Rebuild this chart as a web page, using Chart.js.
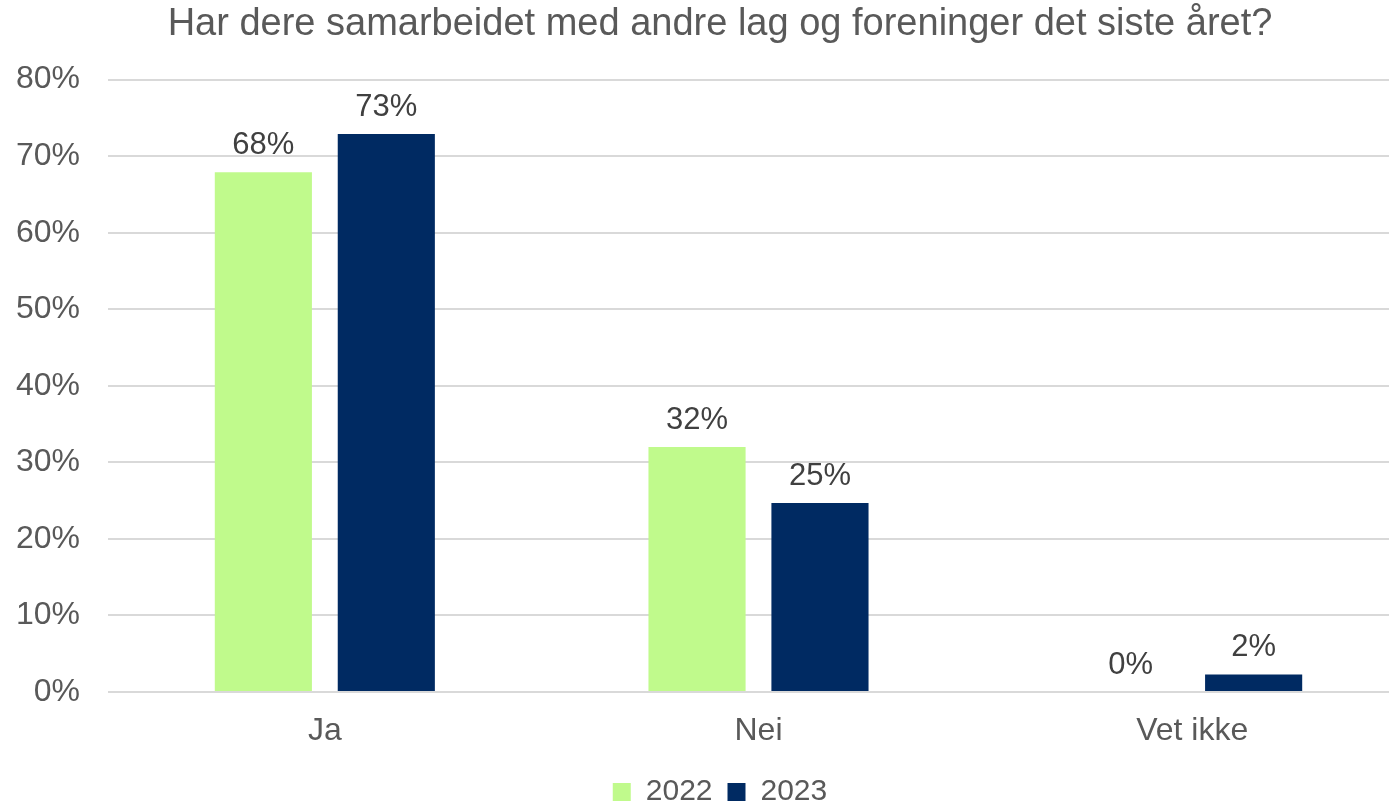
<!DOCTYPE html>
<html>
<head>
<meta charset="utf-8">
<script src="https://cdn.jsdelivr.net/npm/chart.js@4"></script>
<style>
    body { margin: 0; background: #fff; overflow: hidden; }
    #wrap { width: 1440px; height: 804px; }
</style>
</head>
<body>
<div id="wrap"><canvas id="chart" width="1440" height="804"></canvas></div>
<script>
const categories = ["Ja", "Nei", "Vet ikke"];
const values2022 = [67.9, 32.0, 0];
const values2023 = [72.9, 24.7, 2.3];
const yTicks = [0, 10, 20, 30, 40, 50, 60, 70, 80];

const family = "'Liberation Sans', Arial, sans-serif";

// Value labels above each bar
const barLabels = {
    id: "barLabels",
    afterDatasetsDraw(chart) {
        const ctx = chart.ctx;
        ctx.save();
        ctx.font = "31px " + family;
        ctx.fillStyle = "#404040";
        ctx.textAlign = "center";
        ctx.textBaseline = "alphabetic";
        chart.data.datasets.forEach((ds, i) => {
            chart.getDatasetMeta(i).data.forEach((bar, j) => {
                ctx.fillText(Math.round(ds.data[j]) + "%", bar.x, bar.y - 18);
            });
        });
        ctx.restore();
    }
};

new Chart(document.getElementById("chart"), {
    type: "bar",
    data: {
        labels: categories,
        datasets: [
            { label: "2022", data: values2022, backgroundColor: "#c0fa8c" },
            { label: "2023", data: values2023, backgroundColor: "#002a62" }
        ]
    },
    options: {
        responsive: false,
        animation: false,
        categoryPercentage: 0.567,
        barPercentage: 0.79,
        layout: { padding: { left: 0, right: 0, top: 0, bottom: -13 } },
        plugins: {
            title: {
                display: true,
                text: "Har dere samarbeidet med andre lag og foreninger det siste året?",
                color: "#595959",
                font: { family: family, size: 38, weight: "normal" },
                padding: { top: 2, bottom: 32 }
            },
            legend: {
                position: "bottom",
                labels: {
                    color: "#595959",
                    font: { family: family, size: 30, lineHeight: 1 },
                    boxWidth: 18,
                    boxHeight: 18,
                    padding: 15
                }
            },
            tooltip: { enabled: false }
        },
        scales: {
            x: {
                grid: { display: false },
                border: { display: false },
                ticks: { color: "#595959", font: { family: family, size: 32 }, padding: 12 },
                afterFit(scale) { scale.height = 70; }
            },
            y: {
                min: 0,
                max: 80,
                afterBuildTicks(scale) { scale.ticks = yTicks.map(v => ({ value: v })); },
                grid: { color: "#d9d9d9", lineWidth: 2, drawTicks: false },
                border: { display: false },
                ticks: {
                    color: "#595959",
                    font: { family: family, size: 32 },
                    padding: 28,
                    callback: v => v + "%"
                },
                afterFit(scale) { scale.width = 108; }
            },
            // empty right margin so the plot stops at the same place as the original
            y2: {
                position: "right",
                grid: { display: false },
                border: { display: false },
                ticks: { display: false },
                afterFit(scale) { scale.width = 31; }
            }
        }
    },
    plugins: [barLabels]
});
</script>
</body>
</html>
